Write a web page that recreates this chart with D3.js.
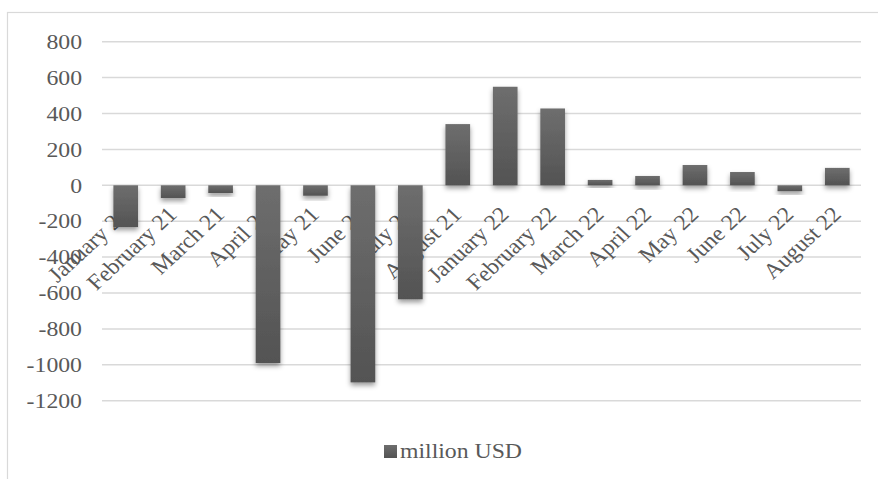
<!DOCTYPE html>
<html>
<head>
<meta charset="utf-8">
<script src="https://cdn.jsdelivr.net/npm/d3@7"></script>
<style>
  html, body { margin: 0; padding: 0; background: #fff; }
  svg { display: block; }
</style>
</head>
<body>
<svg id="chart" width="878" height="479"></svg>
<script>
const categories = ["January 21", "February 21", "March 21", "April 21", "May 21", "June 21", "July 21", "August 21",
                    "January 22", "February 22", "March 22", "April 22", "May 22", "June 22", "July 22", "August 22"];
const values = [-233, -71, -43, -990, -58, -1098, -635, 341, 549, 428, 30, 52, 113, 74, -33, 97];
const yTicks = [800, 600, 400, 200, 0, -200, -400, -600, -800, -1000, -1200];
const seriesName = "million USD";

const W = 878, H = 479;
const plot = { left: 102, right: 861, top: 41.7, bottom: 400.7 };
const textColor = "#595959";
const gridColor = "#d9d9d9";
const fontFamily = "'Liberation Serif', 'Times New Roman', serif";
const fontSize = 22;
const sx = 1.08; // horizontal stretch seen in the reference text

const svg = d3.select("#chart");
const defs = svg.append("defs");

const grad = defs.append("linearGradient").attr("id", "barGrad")
  .attr("x1", 0).attr("y1", 0).attr("x2", 0).attr("y2", 1);
grad.append("stop").attr("offset", "0%").attr("stop-color", "#6e6e6e");
grad.append("stop").attr("offset", "100%").attr("stop-color", "#535353");

const shadow = defs.append("filter").attr("id", "shadow")
  .attr("x", "-50%").attr("y", "-50%").attr("width", "200%").attr("height", "200%");
shadow.append("feDropShadow").attr("dx", 0).attr("dy", 3).attr("stdDeviation", 2.5)
  .attr("flood-color", "#000").attr("flood-opacity", 0.4);

// outer border
svg.append("rect").attr("x", 7.5).attr("y", 12.5).attr("width", 900).attr("height", 500)
  .attr("fill", "none").attr("stroke", gridColor).attr("stroke-width", 1.2);

const x = d3.scaleBand().domain(categories).range([plot.left, plot.right])
  .paddingInner(0.48).paddingOuter(0.24);
const y = d3.scaleLinear().domain([-1200, 800]).range([plot.bottom, plot.top]);

// gridlines
svg.append("g").selectAll("line").data(yTicks).join("line")
  .attr("x1", plot.left).attr("x2", plot.right)
  .attr("y1", d => y(d)).attr("y2", d => y(d))
  .attr("stroke", gridColor).attr("stroke-width", 1.5);

// y axis labels
svg.append("g").selectAll("text").data(yTicks).join("text")
  .attr("transform", d => `translate(82,${y(d)}) scale(${sx},1)`)
  .attr("text-anchor", "end").attr("dominant-baseline", "central")
  .attr("font-family", fontFamily).attr("font-size", fontSize).attr("fill", textColor)
  .text(d => d);

// category labels (drawn before bars, bars cover them)
svg.append("g").selectAll("text").data(categories).join("text")
  .attr("transform", d => `translate(${x(d) + x.bandwidth() / 2 + 5},${y(0) + 30.5}) scale(${sx},1) rotate(-45)`)
  .attr("text-anchor", "end")
  .attr("font-family", fontFamily).attr("font-size", fontSize).attr("fill", textColor)
  .text(d => d);

// bars
svg.append("g").selectAll("rect").data(values).join("rect")
  .attr("x", (d, i) => x(categories[i]))
  .attr("width", x.bandwidth())
  .attr("y", d => y(Math.max(0, d)))
  .attr("height", d => Math.abs(y(d) - y(0)))
  .attr("fill", "url(#barGrad)")
  .attr("filter", "url(#shadow)");

// legend
const lg = svg.append("g");
lg.append("rect").attr("x", 384).attr("y", 445).attr("width", 13).attr("height", 13)
  .attr("fill", "url(#barGrad)");
lg.append("text").attr("transform", `translate(400,458) scale(${sx},1)`)
  .attr("font-family", fontFamily).attr("font-size", fontSize).attr("fill", textColor)
  .text(seriesName);
</script>
</body>
</html>
